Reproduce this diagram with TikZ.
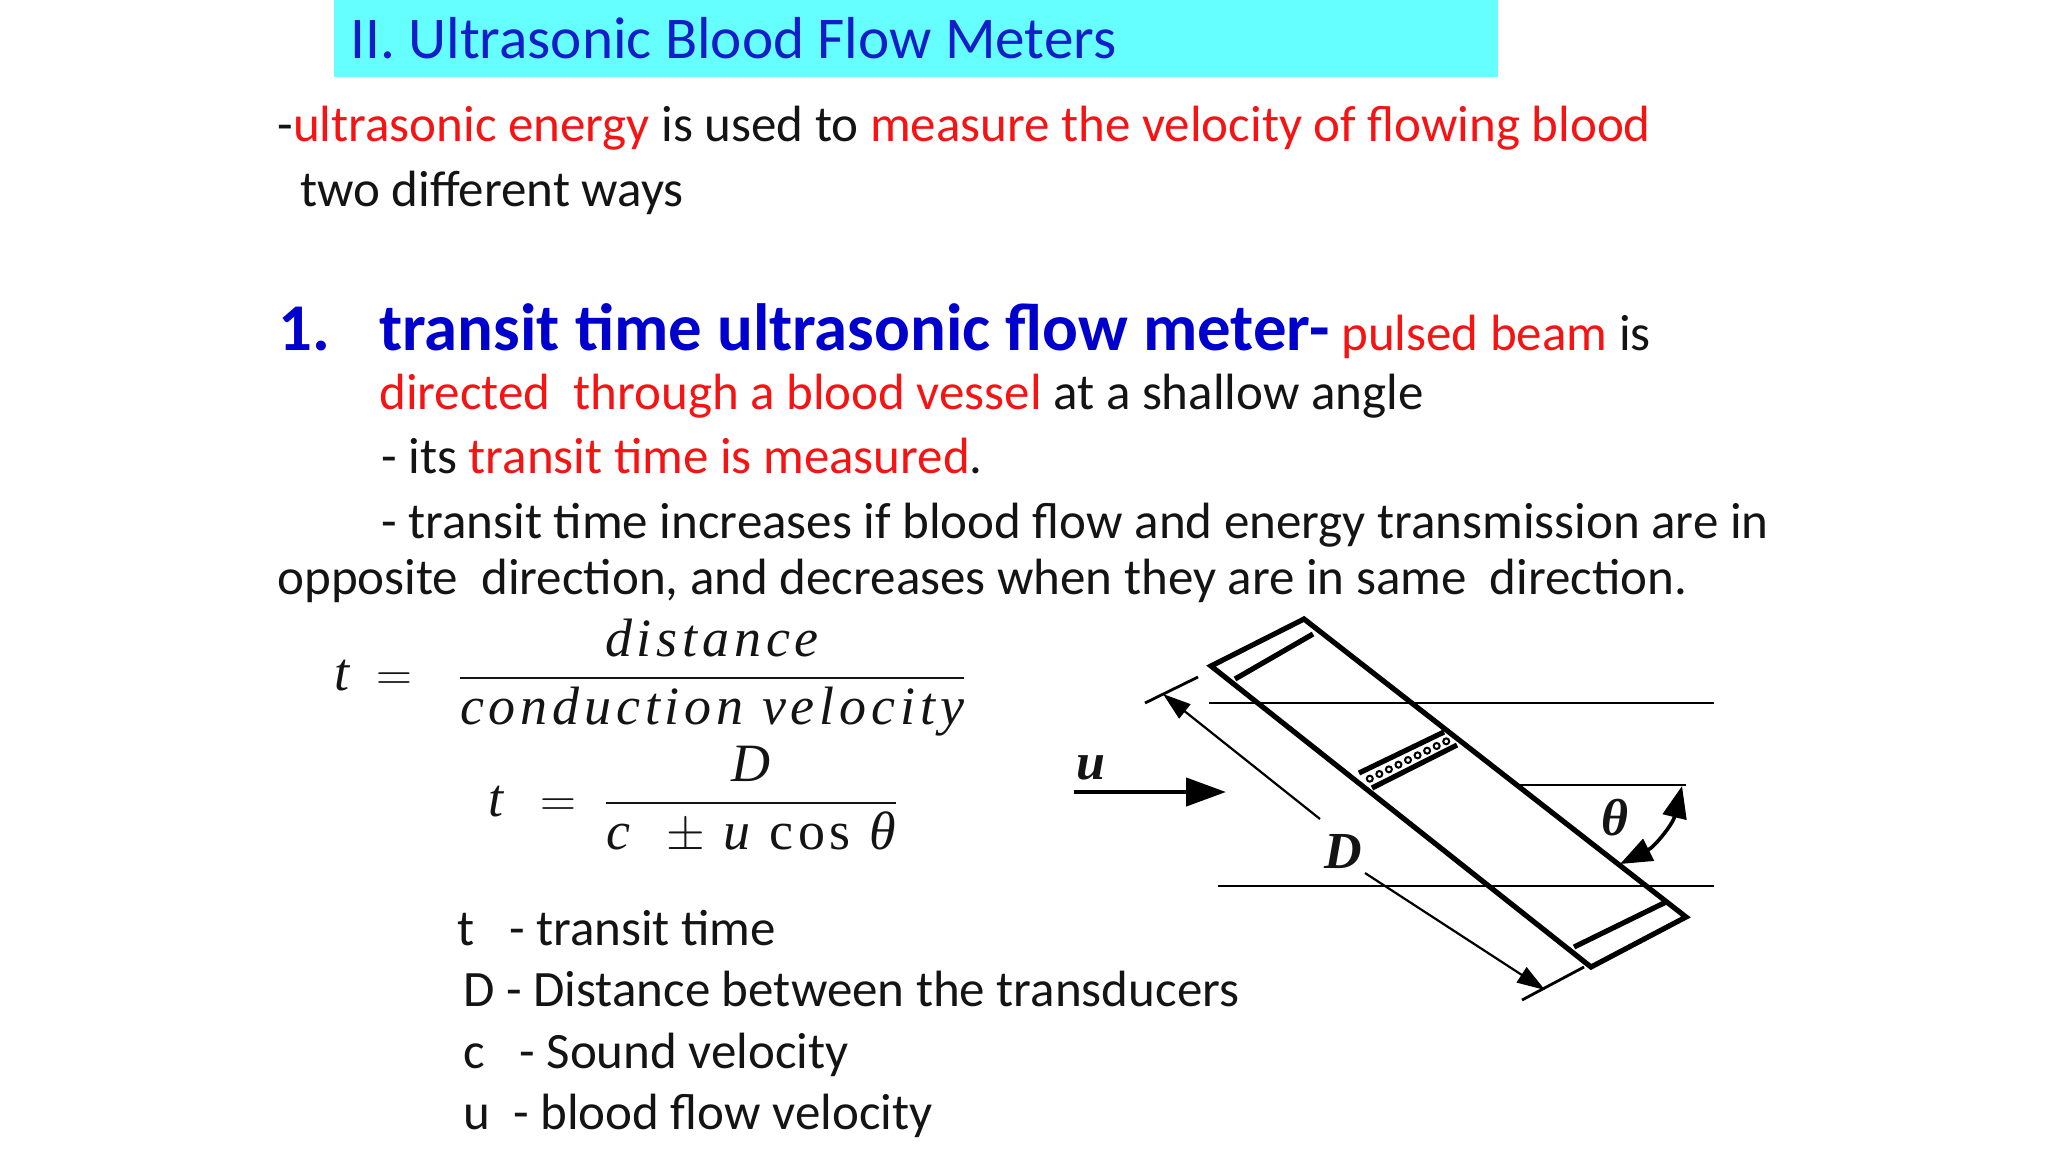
\documentclass[tikz,border=0pt]{standalone}
\usepackage{amsmath}
\usepackage{fontspec}
\setmainfont{Carlito}
\newfontfamily\eqfont[LetterSpace=9]{Liberation Serif}
\usetikzlibrary{arrows.meta,calc}
\definecolor{cyanbg}{RGB}{102,255,255}
\definecolor{ttl}{RGB}{20,30,200}
\definecolor{hd}{RGB}{0,0,205}
\definecolor{rd}{RGB}{245,20,20}
\definecolor{tx}{RGB}{20,20,20}
\tikzset{
  txt/.style={anchor=base west,inner sep=0pt,text=tx,font=\fontsize{25.5}{30}\selectfont},
  eq/.style={inner sep=0pt,text=tx,font=\fontsize{27}{32}\selectfont\eqfont\itshape},
  lbl/.style={inner sep=0pt,text=tx,font=\fontsize{26}{30}\selectfont\eqfont\bfseries\itshape},
  thick line/.style={line width=2.6pt,line join=miter},
  thin line/.style={line width=1.4pt},
  dimarrow/.style={line width=1.1pt,-{Triangle[length=14pt,width=9pt]}},
}
\begin{document}
\begin{tikzpicture}[x=0.5pt,y=-0.5pt]
\useasboundingbox (0,0) rectangle (2048,1152);
\fill[cyanbg] (334,0) rectangle (1498,77);
\node[txt,text=ttl,font=\fontsize{29.6}{34}\selectfont] (title) at (350,58) {II. Ultrasonic Blood Flow Meters};
\node[txt] (l1) at (277,141) {-\textcolor{rd}{ultrasonic energy} is used to \textcolor{rd}{measure the velocity of flowing blood}};
\node[txt] (l2) at (300,206) {two different ways};
\node[txt,text=hd,font=\fontsize{33.4}{38}\selectfont\bfseries] (n1) at (278,350) {1.};
\node[txt] (h1) at (379,350) {{\fontsize{33.4}{38}\selectfont\bfseries\color{hd}transit time ultrasonic flow meter-} \textcolor{rd}{pulsed beam} is};
\node[txt] (l3) at (379,409) {\textcolor{rd}{directed\ \ through a blood vessel} at a shallow angle};
\node[txt] (l4) at (381,473) {- its \textcolor{rd}{transit time is measured}.};
\node[txt] (l5) at (381,538) {- transit time increases if blood flow and energy transmission are in};
\node[txt] (l6) at (277,594) {opposite\ \ direction, and decreases when they are in same\ \ direction.};
% equations
\node[eq,anchor=base west] (e1) at (334,690) {t\,\ $=$};
\node[eq,anchor=center] (e1f) at (712,680) {$\displaystyle\frac{\text{distance}}{\text{conduction velocity}\rule[-8pt]{0pt}{1pt}}$};
\node[eq,anchor=base west] (e2) at (488,816) {t\ \ $=$};
\node[eq,anchor=center] (e2f) at (751,806) {$\displaystyle\frac{\text{\,D\,}}{\text{c\ \ $\pm$ u \upshape cos \itshape θ}\rule[-8pt]{0pt}{1pt}}$};
% legend
\node[txt] (g1) at (457,945) {t\ \ \ - transit time};
\node[txt] (g2) at (463,1006) {D - Distance between the transducers};
\node[txt] (g3) at (463,1068) {c\ \ \ - Sound velocity};
\node[txt] (g4) at (463,1129) {u\ \ - blood flow velocity};
% diagram
\draw[thin line] (1209,703) -- (1714,703);
\draw[thin line] (1218,886) -- (1714,886);
\draw[thin line] (1516,785) -- (1686,785);
\draw[thick line] (1211,666) -- (1304,619) -- (1686,917) -- (1591,967) -- cycle;
\draw[thick line] (1235,679) -- (1313,634);
\draw[thick line] (1574,947) -- (1666,902);
\draw[thick line] (1359,773) -- (1444,732);
\draw[thick line] (1372,788) -- (1457,745);
\foreach \i in {0,...,8} {
  \draw[line width=1pt] ($(1365,781)!{(\i+0.5)/9}!(1451,739)$) circle (3);
}
% u arrow
\node[lbl] (ulab) at (1091,768) {u};
\coordinate (ua) at (1074,792);
\coordinate (ub) at (1226,792);
\draw[line width=2.2pt,-{Triangle[length=20pt,width=14pt]}] (ua) -- (ub);
% theta
\node[lbl] (th) at (1615,818) {θ};
\coordinate (ta) at (1620,864);
\coordinate (tb) at (1682,786);
\draw[line width=1.8pt,{Triangle[length=16pt,width=12pt]}-{Triangle[length=16pt,width=12pt]}] (ta) to[bend right=25] (tb);
% D dimension
\draw[thin line] (1145,703) -- (1198,677);
\draw[thin line] (1522,1000) -- (1584,967);
\coordinate (d2) at (1320,819);
\coordinate (d1) at (1163,694);
\coordinate (d3) at (1365,873);
\coordinate (d4) at (1545,990);
\draw[dimarrow] (d2) -- (d1);
\draw[dimarrow] (d3) -- (d4);
\node[lbl] (dl) at (1343,852) {D};
\end{tikzpicture}
\end{document}
